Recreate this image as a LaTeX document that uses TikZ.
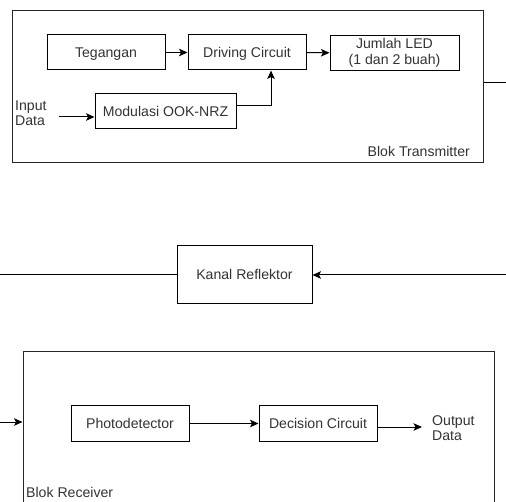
\documentclass[tikz,border=0pt]{standalone}
\usepackage{fontspec}
\setmainfont{Liberation Sans}
\usetikzlibrary{arrows.meta}
\tikzset{
  blk/.style={draw=black, line width=1pt, inner sep=0pt, align=center, text=black!80},
  one/.style={text height=10pt, text depth=0pt},
  frame/.style={draw=black!85, line width=1pt, inner sep=0pt},
  lbl/.style={inner sep=0pt, text=black!80, align=left},
  arr/.style={line width=1pt, -{Stealth[length=8.5pt,width=7.5pt,inset=2pt]}},
  ln/.style={line width=1pt}
}
\begin{document}
\begin{tikzpicture}[x=1pt,y=-1pt,font=\fontsize{14.1}{15.5}\selectfont]
\useasboundingbox (0,0) rectangle (506,502);
\clip (0,0) rectangle (506,502);
\fill[white] (0,0) rectangle (506,502);
% Transmitter block
\node[frame, minimum width=471pt, minimum height=152pt] (tx) at (247.5,87) {};
\node[lbl, anchor=base east] (txl) at (470,157) {Blok Transmitter};
\node[blk, one, minimum width=118pt, minimum height=35pt] (teg) at (106,52.5) {Tegangan};
\node[blk, one, minimum width=118pt, minimum height=35pt] (drv) at (247,52.5) {Driving Circuit};
\node[blk, minimum width=129pt, minimum height=35pt] (led) at (394.5,53) {Jumlah LED\\(1 dan 2 buah)};
\node[blk, one, minimum width=141pt, minimum height=35pt] (mod) at (165.5,111.5) {Modulasi OOK-NRZ};
\node[lbl, anchor=west] (inp) at (15,113) {Input\\Data};
\coordinate (inA) at (59,117);
\draw[arr] (inA) -- (inA -| mod.west);
\draw[arr] (teg) -- (drv);
\draw[arr] (drv) -- (led);
\draw[arr] (mod.east |- 0,106) -| ([xshift=24pt]drv.south);
\coordinate (txOut) at (506,83);
\draw[ln] (txOut -| tx.east) -- (txOut);
% Channel
\node[blk, one, minimum width=135pt, minimum height=58pt] (kan) at (244.5,275) {Kanal Reflektor};
\coordinate (kL) at (0,275);
\coordinate (kR) at (506,275);
\draw[ln] (kL) -- (kan.west);
\draw[arr] (kR) -- (kan.east);
% Receiver block
\node[frame, minimum width=471pt, minimum height=178pt] (rx) at (258.5,441) {};
\node[lbl, anchor=base west] (rxl) at (26,497) {Blok Receiver};
\coordinate (rxIn) at (0,422);
\draw[arr] (rxIn) -- (rxIn -| rx.west);
\node[blk, one, minimum width=118pt, minimum height=35pt] (pd) at (130,423.5) {Photodetector};
\node[blk, one, minimum width=118pt, minimum height=35pt] (dc) at (318,423.5) {Decision Circuit};
\draw[arr] (pd) -- (dc);
\node[lbl, anchor=west] (out) at (432,428) {Output\\Data};
\coordinate (outA) at (422,427);
\draw[arr] (dc.east |- outA) -- (outA);
\end{tikzpicture}
\end{document}
